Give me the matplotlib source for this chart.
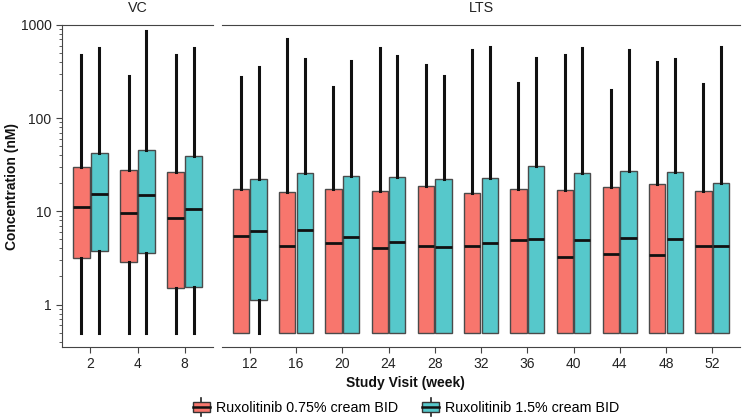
import numpy as np
import matplotlib.pyplot as plt
from matplotlib.patches import Patch, Rectangle
from matplotlib.lines import Line2D
from matplotlib.legend_handler import HandlerBase
from matplotlib.ticker import LogLocator, NullFormatter, FixedLocator

plt.rcParams['font.family'] = ['Liberation Sans', 'DejaVu Sans']

weeks = ['2', '4', '8', '12', '16', '20', '24', '28', '32', '36', '40', '44', '48', '52']
n_vc = 3  # first three visits are VC, rest LTS
panels = ['VC', 'LTS']
arms = ['Ruxolitinib 0.75% cream BID', 'Ruxolitinib 1.5% cream BID']
colors = ['#F8766D', '#56C8CB']

# 0.75% arm
lo_075 = [0.5] * 14
q1_075 = [3.12, 2.83, 1.52] + [0.5] * 11
med_075 = [11.0, 9.64, 8.39, 5.46, 4.23, 4.52, 4.05, 4.26, 4.26, 4.91, 3.24, 3.47, 3.36, 4.20]
q3_075 = [29.6, 27.7, 26.2, 17.3, 16.0, 17.2, 16.5, 18.7, 15.6, 17.2, 16.9, 18.1, 19.7, 16.5]
hi_075 = [476, 283, 476, 274, 713, 214, 570, 369, 538, 240, 472, 199, 403, 231]

# 1.5% arm
lo_15 = [0.5] * 14
q1_15 = [3.74, 3.58, 1.55, 1.13] + [0.5] * 10
med_15 = [15.3, 14.9, 10.6, 6.13, 6.24, 5.32, 4.67, 4.15, 4.59, 4.99, 4.91, 5.20, 5.07, 4.20]
q3_15 = [42.5, 45.1, 39.5, 22.3, 25.5, 24.0, 23.1, 22.0, 22.6, 30.6, 25.5, 27.2, 26.2, 20.2]
hi_15 = [562, 862, 562, 351, 428, 408, 468, 285, 576, 446, 562, 543, 435, 580]

series = [(lo_075, q1_075, med_075, q3_075, hi_075),
          (lo_15, q1_15, med_15, q3_15, hi_15)]


class BoxHandler(HandlerBase):
    def create_artists(self, legend, orig_handle, xdescent, ydescent,
                       width, height, fontsize, trans):
        cx = width / 2 - xdescent
        cy = height / 2 - ydescent
        bh = height * 0.9
        wl = Line2D([cx, cx], [cy - height * 0.8, cy + height * 0.8],
                    color='#222222', lw=1.2, transform=trans)
        r = Rectangle((-xdescent, cy - bh / 2), width, bh,
                      facecolor=orig_handle.get_facecolor(),
                      edgecolor='#333333', lw=1.0, transform=trans)
        ml = Line2D([-xdescent, width - xdescent], [cy, cy],
                    color='#111111', lw=1.8, transform=trans)
        return [wl, r, ml]


fig = plt.figure(figsize=(7.51, 4.19), dpi=100)
bottom, height = 1 - 347 / 419, 322 / 419
ax_vc = fig.add_axes([62 / 751, bottom, 151 / 751, height])
ax_lts = fig.add_axes([222 / 751, bottom, 518 / 751, height])

splits = [slice(0, n_vc), slice(n_vc, len(weeks))]
for ax, sl, name in zip([ax_vc, ax_lts], splits, panels):
    labels = weeks[sl]
    x = np.arange(len(labels))
    for k, (lo, q1, med, q3, hi) in enumerate(series):
        stats = []
        for i in range(sl.start, sl.stop):
            stats.append(dict(whislo=lo[i], q1=q1[i], med=med[i], q3=q3[i], whishi=hi[i]))
        off = -0.19 if k == 0 else 0.19
        ax.bxp(stats, positions=x + off, widths=0.35, patch_artist=True,
               showcaps=False, showfliers=False, manage_ticks=False,
               boxprops=dict(facecolor=colors[k], edgecolor='#4a4a4a', linewidth=1.0),
               whiskerprops=dict(color='#111111', linewidth=2.2),
               medianprops=dict(color='#111111', linewidth=2.0))
    ax.set_yscale('log')
    ax.set_ylim(0.35, 1000)
    ax.set_xlim(-0.6, len(labels) - 0.4)
    ax.set_xticks(x)
    ax.set_xticklabels(labels)
    ax.spines['right'].set_visible(False)
    ax.spines['top'].set_color('#444444')
    ax.spines['bottom'].set_color('#444444')
    ax.tick_params(axis='x', length=4, color='#444444', labelsize=10, labelcolor='#222222', pad=3)
    ax.set_title(name, fontsize=10.3, color='#222222', pad=9)

ax_lts.spines['left'].set_visible(False)
ax_lts.tick_params(axis='y', which='both', left=False, labelleft=False)

ax_vc.spines['left'].set_color('#444444')
ax_vc.yaxis.set_major_locator(FixedLocator([1, 10, 100, 1000]))
ax_vc.set_yticklabels(['1', '10', '100', '1000'])
ax_vc.yaxis.set_minor_locator(LogLocator(base=10, subs=np.arange(2, 10)))
ax_vc.yaxis.set_minor_formatter(NullFormatter())
ax_vc.tick_params(axis='y', which='major', length=4, color='#444444', labelsize=10, labelcolor='#222222')
ax_vc.tick_params(axis='y', which='minor', length=2.5, color='#444444')

fig.text(12 / 751, 1 - 186 / 419, 'Concentration (nM)', rotation=90, ha='center', va='center',
         fontsize=10, fontweight='bold', color='#111111')
fig.text(405 / 751, 1 - 383 / 419, 'Study Visit (week)', ha='center', va='center',
         fontsize=10, fontweight='bold', color='#111111')

handles = [Patch(facecolor=c) for c in colors]
fig.legend(handles, arms, loc='center', bbox_to_anchor=(406 / 751, 1 - 408 / 419), ncol=2,
           frameon=False, fontsize=10.3, handler_map={Patch: BoxHandler()},
           handlelength=1.2, handleheight=0.85, handletextpad=0.4, columnspacing=1.7)

fig.savefig('out.png', dpi=100)
